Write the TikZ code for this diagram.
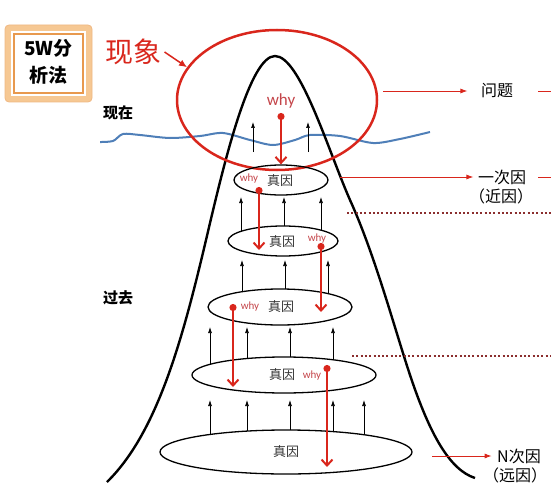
\documentclass[tikz,border=0pt]{standalone}
\usepackage{fontspec}
\setmainfont{Carlito}
\newfontfamily\cjk{Noto Sans CJK SC}
\usetikzlibrary{arrows.meta,shapes.geometric}
\definecolor{redline}{HTML}{D9261C}
\definecolor{whyred}{HTML}{C4454A}
\definecolor{wave}{HTML}{4F7FB8}
\definecolor{dotred}{HTML}{8B2E2E}
\definecolor{peach}{HTML}{F6C893}
\definecolor{boxorange}{HTML}{E8994E}

\begin{document}
\begin{tikzpicture}[x=1pt,y=-1pt,
	cause/.style={draw,ellipse,line width=1.3pt,inner sep=0pt},
	cn/.style={font=\cjk\fontsize{13}{13}\selectfont,text=black!80},
	whylbl/.style={font=\fontsize{11}{11}\selectfont,text=whyred},
	dig/.style={redline,line width=2pt,{Circle[length=7pt]}-{Straight Barb[length=6pt,width=11pt,line width=2pt]}},
	up/.style={-{Latex[length=6pt,width=4pt]},line width=0.7pt},
	side/.style={redline,line width=0.9pt,-{Latex[length=7pt,width=5pt]}},
	sidelbl/.style={font=\cjk\fontsize{16}{16}\selectfont},
	cut/.style={dotred,line width=2pt,dash pattern=on 2pt off 2.3pt}]
			%%%%% START %%%%%
			\useasboundingbox (0,0) rectangle (551,500);
			
			% title box
			\draw[rounded corners=4, fill=peach, draw=boxorange!70, line width=0.8pt] (5,25) rectangle (92,102);
			\draw[fill=white, draw=white, line width=1.5pt] (12,32) rectangle (85,95);
			\draw[boxorange, line width=1.6pt] (14,34) rectangle (83,93);
			\node[font=\cjk\bfseries\fontsize{19}{27}\selectfont, align=center] (title) at (48.5,62) {5W分\\析法};
			
			\node[font=\cjk\bfseries\fontsize{15}{15}\selectfont] (now) at (118,113) {现在};
			\node[font=\cjk\bfseries\fontsize{15}{15}\selectfont] (past) at (118,298) {过去};
			
			% water line
			\draw[wave, line width=2pt] plot[smooth] coordinates {(100,142) (113,141) (123,134) (140,135) (170,138) (200,136) (223,133) (250,140) (273,145) (295,140) (310,135) (340,136) (373,143) (400,139) (430,132)};
			
			% mountain
			\draw[line width=2.4pt] (107,482) .. controls (160,430) and (185,330) .. (210,223)
				.. controls (225,160) and (250,56) .. (275,56)
				.. controls (300,56) and (328,150) .. (350,200)
				.. controls (375,255) and (395,330) .. (410,375)
				.. controls (430,435) and (450,470) .. (475,478);
			
			% phenomenon
			\node[draw=redline, ellipse, line width=2.5pt, minimum width=200, minimum height=140, inner sep=0pt] (issue) at (277,100) {};
			\node[font=\cjk\fontsize{28}{28}\selectfont, text=redline] (xianxiang) at (133,52) {现象};
			\draw[redline, line width=1.5pt, -{Latex[length=8pt,width=7pt]}] (xianxiang.east) -- (issue.160);
			\node[font=\fontsize{17}{17}\selectfont, text=whyred] (why0) at (281,101) {why};
			
			% causes
			\node[cause, minimum width=94, minimum height=30] (e1) at (281,180) {};
			\node[cause, minimum width=110, minimum height=30] (e2) at (283,241) {};
			\node[cause, minimum width=144, minimum height=36] (e3) at (280,307) {};
			\node[cause, minimum width=184, minimum height=36] (e4) at (284,375) {};
			\node[cause, minimum width=252, minimum height=44] (e5) at (286,452) {};
			
			\node[cn] (c1) at (280,181) {真因};
			\node[cn] (c2) at (282,242) {真因};
			\node[cn] (c3) at (281,307) {真因};
			\node[cn] (c4) at (282,375) {真因};
			\node[cn] (c5) at (286,452) {真因};
			
			\node[whylbl] (why1) at (249,179) {why};
			\node[whylbl] (why2) at (317,239) {why};
			\node[whylbl] (why3) at (250,307) {why};
			\node[whylbl] (why4) at (312,376) {why};
			
			% black arrows
			\foreach \x/\a/\b in {253/152/122, 308/152/122, 241/231/197, 284/226/197, 321/230/197, 242/292/260, 285/289/260, 328/294/260, 210/364/327, 247/358/327, 290/357/327, 333/360/327, 210/434/400, 247/431/400, 290/430/400, 333/432/400, 364/435/400}
				\draw[up] (\x,\a) -- (\x,\b);
			
			% asking why
			\draw[dig] (281,113) -- (e1.north);
			\draw[dig] (259,187) -- (259,250);
			\draw[dig] (321,243) -- (321,312);
			\draw[dig] (233,304) -- (233,387);
			\draw[dig] (327,365) -- (327,467);
			
			% right side
			\node[sidelbl] (wenti) at (497,91) {问题};
			\node[sidelbl] (yici) at (502,177) {一次因};
			\node[sidelbl] (jinyin) at (501,196) {（近因）};
			\node[sidelbl] (nci) at (519,456) {N次因};
			\node[sidelbl] (yuanyin) at (515,475) {（远因）};
			
			\draw[side] (383,91) -- ([xshift=-10pt]wenti.west);
			\draw[side] (340,177) -- ([xshift=-1pt]yici.west);
			\draw[side] (432,456) -- ([xshift=-2pt]nci.west);
			\draw[redline, line width=0.9pt] (538,91) -- (551,91);
			\draw[redline, line width=0.9pt] (538,177) -- (551,177);
			
			\draw[cut] (347,213) -- (551,213);
			\draw[cut] (352,356) -- (551,356);
			%%%%% END %%%%%
\end{tikzpicture}
\end{document}
